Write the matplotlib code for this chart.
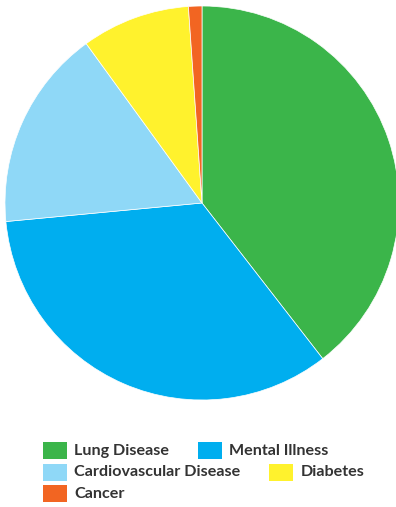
import matplotlib.pyplot as plt
from matplotlib.patches import Rectangle

# data
labels = ["Lung Disease", "Mental Illness", "Cardiovascular Disease", "Diabetes", "Cancer"]
values = [39.5, 34.0, 16.5, 8.9, 1.1]
colors = ["#3BB54A", "#00AEEF", "#8FD8F7", "#FFF22D", "#F26522"]

plt.rcParams['font.family'] = ['Lato', 'DejaVu Sans']

W, H = 396, 507
fig = plt.figure(figsize=(W / 100, H / 100), dpi=100)
ax = fig.add_axes([5 / W, (H - 203 - 197) / H, 394 / W, 394 / H])
ax.pie(values, colors=colors, startangle=90, counterclock=False,
       wedgeprops=dict(edgecolor="white", linewidth=0.5))
ax.set_xlim(-1, 1)
ax.set_ylim(-1, 1)
ax.set_aspect("equal")

# legend laid out inline, wrapping like a flow layout (pixel coords from top-left)
renderer = fig.canvas.get_renderer()
x0, x, y = 43, 43, 450.5
max_x = W - 30
for lab, col in zip(labels, colors):
    t = fig.text(0, 0, lab, fontsize=11.6, fontweight='bold', color="#333333",
                 va='center', ha='left')
    tw = t.get_window_extent(renderer).width
    if x > x0 and x + 31 + tw > max_x:
        x = x0
        y += 21.5
    fig.add_artist(Rectangle((x / W, 1 - (y + 8.5) / H), 24 / W, 17 / H,
                             transform=fig.transFigure, facecolor=col, edgecolor='none'))
    t.set_position(((x + 31) / W, 1 - (y + 0.5) / H))
    x = x + 31 + tw + 29

fig.savefig("out.png", dpi=100)
